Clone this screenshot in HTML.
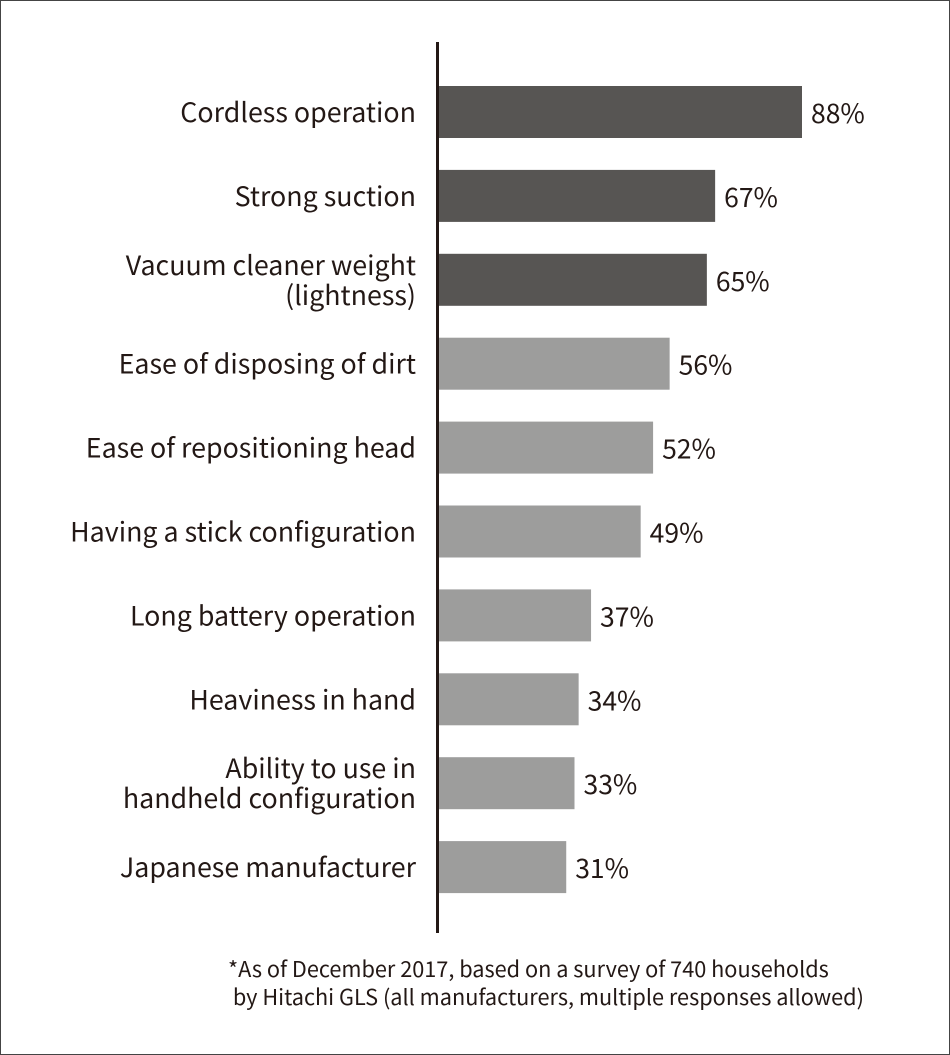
<!DOCTYPE html>
<html><head><meta charset="utf-8"><style>
html,body{margin:0;padding:0;background:#fff}
#wrap{position:relative;width:948px;height:1053px;border:1px solid #444;overflow:hidden;font-family:"Noto Sans CJK JP","Liberation Sans",sans-serif;color:#231815}
svg{position:absolute;left:0;top:0}
svg text{font-family:"Noto Sans CJK JP","Liberation Sans",sans-serif}
.note{position:absolute;left:227px;top:954px;font-size:21.7px;line-height:28px;color:#231815;white-space:pre}
</style></head><body>
<div id="wrap">
<svg id="chart" width="948" height="1053"></svg>
<div class="note">*As of December 2017, based on a survey of 740 households
 by Hitachi GLS (all manufacturers, multiple responses allowed)</div>
</div>
<script>
const categories=[["Cordless operation"],["Strong suction"],["Vacuum cleaner weight","(lightness)"],["Ease of disposing of dirt"],["Ease of repositioning head"],["Having a stick configuration"],["Long battery operation"],["Heaviness in hand"],["Ability to use in","handheld configuration"],["Japanese manufacturer"]];
const values=[88,67,65,56,52,49,37,34,33,31];
const highlighted=[true,true,true,false,false,false,false,false,false,false];
const valueLabels=["88%","67%","65%","56%","52%","49%","37%","34%","33%","31%"];
const NS="http://www.w3.org/2000/svg";
const svg=document.getElementById('chart');
const x0=437, pxPer=364/88;
function xs(v){return x0+v*pxPer;}
function ys(i){return 85+i*83.9;}
const barH=52;
function mk(t,a){const e=document.createElementNS(NS,t);for(const k in a)e.setAttribute(k,a[k]);svg.appendChild(e);return e;}
values.forEach((v,i)=>{
  const y=ys(i);
  const r=mk('rect',{x:x0,y:y,width:xs(v)-x0,height:barH,fill:highlighted[i]?'#575553':'#9d9d9c'});
  
  
  const t=mk('text',{x:xs(v)+9,y:y+barH/2+11,'font-size':26.5,fill:'#231815'});
  t.textContent=valueLabels[i];
  
  
  const lines=categories[i];
  lines.forEach((ln,j)=>{
    const cy=y+barH/2+10+(j-(lines.length-1)/2)*30;
    const c=mk('text',{x:415,y:cy,'font-size':26.8,'text-anchor':'end',fill:'#231815'});
    c.textContent=ln;
    
    
  });
});
const ax=mk('line',{x1:436.5,y1:41,x2:436.5,y2:932,stroke:'#231815','stroke-width':3});


</script>
</body></html>
